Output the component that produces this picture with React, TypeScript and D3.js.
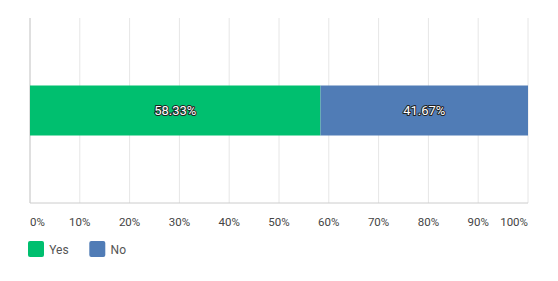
import React from "react";
import * as d3 from "d3";

const categories = ["Q1"];
const seriesNames = ["Yes", "No"];
const seriesValues = [58.33, 41.67];
const seriesColors = ["#00BF6F", "#507CB6"];
const tickValues = [0, 10, 20, 30, 40, 50, 60, 70, 80, 90, 100];

const W = 558;
const H = 281;
const margin = { left: 30, right: 30, top: 18, bottom: 78 };

export default function App() {
  const x = d3.scaleLinear().domain([0, 100]).range([margin.left, W - margin.right]);
  const y = d3
    .scaleBand()
    .domain(categories)
    .range([margin.top, H - margin.bottom])
    .paddingInner(0)
    .paddingOuter(1.35);
  const stacked = d3.cumsum(seriesValues);
  const starts = seriesValues.map((v, i) => stacked[i] - v);
  const font = "Roboto, 'Open Sans', sans-serif";
  const bottom = H - margin.bottom;
  return (
    <svg
      width={W}
      height={H}
      style={{ position: "absolute", left: 0, top: 0, display: "block" }}
    >
      <rect x={0} y={0} width={W} height={H} fill="#fff" />
      {tickValues.map((t) => (
        <line
          key={"g" + t}
          x1={x(t)}
          x2={x(t)}
          y1={margin.top}
          y2={bottom}
          stroke="#e6e6e6"
          strokeWidth={1}
        />
      ))}
      <line x1={x(0)} x2={x(0)} y1={margin.top} y2={bottom} stroke="#ccc" strokeWidth={1} />
      <line x1={x(0)} x2={x(100)} y1={bottom} y2={bottom} stroke="#ccc" strokeWidth={1} />
      {categories.map((c) =>
        seriesValues.map((v, i) => {
          const x0 = x(starts[i]);
          const x1 = x(stacked[i]);
          const yy = y(c)!;
          const bw = y.bandwidth();
          return (
            <g key={c + i}>
              <rect x={x0} y={yy} width={x1 - x0} height={bw} fill={seriesColors[i]} />
              <text
                x={(x0 + x1) / 2}
                y={yy + bw / 2}
                dy="0.35em"
                textAnchor="middle"
                fontFamily={font}
                fontSize={13}
                fill="#fff"
                stroke="#222"
                strokeWidth={2}
                strokeLinejoin="round"
                style={{ paintOrder: "stroke" }}
              >
                {v.toFixed(2) + "%"}
              </text>
            </g>
          );
        })
      )}
      {tickValues.map((t, i) => (
        <text
          key={"t" + t}
          x={x(t)}
          y={222}
          dy="0.35em"
          textAnchor={i === 0 ? "start" : i === tickValues.length - 1 ? "end" : "middle"}
          fontFamily={font}
          fontSize={11.5}
          fill="#444"
        >
          {t + "%"}
        </text>
      ))}
      {seriesNames.map((n, i) => {
        const lx = 28 + i * 61.3;
        return (
          <g key={n}>
            <rect x={lx} y={241} width={16} height={16} rx={2} fill={seriesColors[i]} />
            <text
              x={lx + 21.3}
              y={249.5}
              dy="0.35em"
              fontFamily={font}
              fontSize={12}
              fill="#555"
            >
              {n}
            </text>
          </g>
        );
      })}
    </svg>
  );
}
